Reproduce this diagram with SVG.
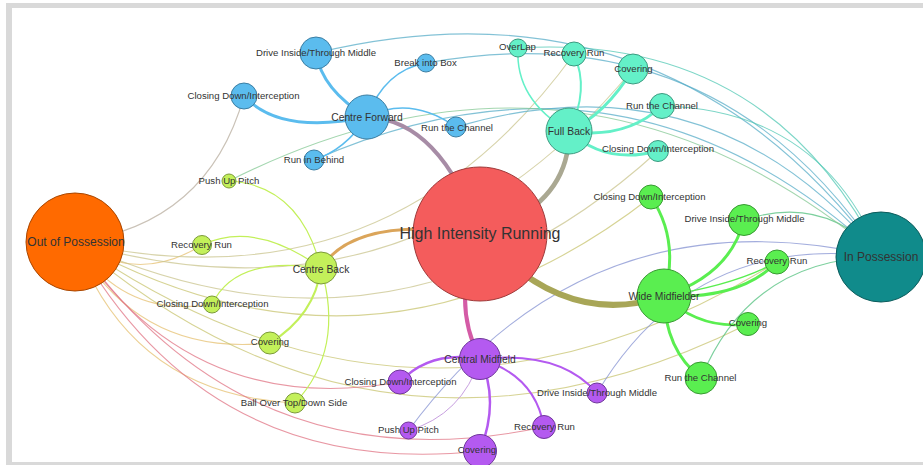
<svg xmlns="http://www.w3.org/2000/svg" width="923" height="465" viewBox="0 0 923 465">
<style>
.e{fill:none;stroke-linecap:round}
.t{fill:none;stroke-width:1.1;stroke-opacity:0.75}
.oc{stroke:#b8ad9f}.ob{stroke:#e6c070}.of{stroke:#c9c48e}.ow{stroke:#c8c470}.om{stroke:#e07484}
.ic{stroke:#5aaec8}.if{stroke:#52c8b4}.iw{stroke:#52c07e}.im{stroke:#8492d2}.ib{stroke:#84c894}
.cfe{stroke:#5bbcee}.fbe{stroke:#64f0c8}.wme{stroke:#5aee50}.cme{stroke:#b45af0}.cbe{stroke:#c3f05a}
circle{stroke-width:1}
.cf{fill:#5bbcee;stroke:#3b7ea3}.fb{fill:#64f0c8;stroke:#3c9a80}.wm{fill:#5aee50;stroke:#389a32}
.cm{fill:#b45af0;stroke:#6f379a}.cb{fill:#c3f05a;stroke:#7c9a3a}
text{font-family:"Liberation Sans",Arial,sans-serif;fill:#333;text-anchor:middle;font-size:9.6px}
.h{font-size:10.3px}
</style>
<rect x="6" y="3" width="917" height="462" fill="#d9d9d9"/>
<rect x="12" y="8" width="911" height="454" fill="#ffffff"/>
<g id="connectors">
<path class="t oc" d="M75,242 Q207.7,224.8 244,96"/>
<path class="t ob" d="M75,242 Q137.5,285.4 202,245"/>
<path class="t ob" d="M75,242 Q122.9,318.5 212,304.5"/>
<path class="t ob" d="M75,242 Q139.2,356.9 270,343"/>
<path class="t ob" d="M75,242 Q131.9,395.1 295,403"/>
<path class="t of" d="M75,242 Q386.5,312.7 574,54"/>
<path class="t of" d="M75,242 Q411.1,339.6 633,69"/>
<path class="t of" d="M75,242 Q396.5,388.9 658,151"/>
<path class="t ow" d="M75,242 Q377.9,409.6 651,197"/>
<path class="t ow" d="M75,242 Q419.4,483.7 777,262"/>
<path class="t ow" d="M75,242 Q384.4,505.1 748,324"/>
<path class="t om" d="M75,242 Q191.3,419.3 400,382"/>
<path class="t om" d="M75,242 Q248.5,489.3 544,427"/>
<path class="t om" d="M75,242 Q208.5,480.2 480,451"/>
<path class="t ic" d="M881,257 Q665.8,-31.5 316,53"/>
<path class="t ic" d="M881,257 Q717.5,9.9 426,63"/>
<path class="t ic" d="M881,257 Q711.4,51.8 456,127"/>
<path class="t ic" d="M881,257 Q629.5,21.4 314,160"/>
<path class="t if" d="M881,257 Q768.5,32.7 518,48"/>
<path class="t if" d="M881,257 Q821.3,109.2 662,106"/>
<path class="t iw" d="M881,257 Q824.7,193.3 744,220"/>
<path class="t iw" d="M881,257 Q751,258 701,378"/>
<path class="t im" d="M881,257 Q694,231.3 597,393"/>
<path class="t im" d="M881,257 Q587.5,187.8 408.5,430.5"/>
<path class="t ib" d="M881,257 Q580.1,3.8 229,181"/>
<path class="e" stroke="#a78ca6" stroke-width="4" d="M367,117 Q440,120 480,234"/>
<path class="e" stroke="#aaa892" stroke-width="4.5" d="M480,234 Q570,205 569,131"/>
<path class="e" stroke="#dba55a" stroke-width="3" d="M321,268 Q355,215 480,234"/>
<path class="e" stroke="#a8a657" stroke-width="6" d="M480,234 Q565,330 664,296"/>
<path class="e" stroke="#d45ba6" stroke-width="4" d="M480,234 Q450,300 480,359"/>
<path class="e cfe" stroke-width="3" d="M316,53 Q322,90 367,117"/>
<path class="e cfe" stroke-width="3" d="M244,96 Q280,135 367,117"/>
<path class="e cfe" stroke-width="1.5" d="M367,117 Q385,70 426,63"/>
<path class="e cfe" stroke-width="1.5" d="M367,117 Q410,95 456,127"/>
<path class="e cfe" stroke-width="1.5" d="M367,117 Q345,150 314,160"/>
<path class="e fbe" stroke-width="1.5" d="M518,48 Q515,100 569,131"/>
<path class="e fbe" stroke-width="2" d="M574,54 Q590,90 569,131"/>
<path class="e fbe" stroke-width="3" d="M569,131 Q605,115 633,69"/>
<path class="e fbe" stroke-width="3" d="M569,131 Q625,140 662,106"/>
<path class="e fbe" stroke-width="3" d="M569,131 Q605,165 658,151"/>
<path class="e wme" stroke-width="3" d="M651,197 Q680,240 664,296"/>
<path class="e wme" stroke-width="3" d="M664,296 Q730,275 744,220"/>
<path class="e wme" stroke-width="3" d="M664,296 Q740,300 777,262"/>
<path class="e wme" stroke-width="1.5" d="M664,296 Q735,285 777,262"/>
<path class="e wme" stroke-width="2.5" d="M664,296 Q700,330 748,324"/>
<path class="e wme" stroke-width="3" d="M664,296 Q665,350 701,378"/>
<path class="e cme" stroke-width="2.5" d="M480,359 Q430,350 400,382"/>
<path class="e cme" stroke-width="2" d="M480,359 Q560,350 597,393"/>
<path class="e cme" stroke-width="2" d="M480,359 Q535,375 544,427"/>
<path class="e cme" stroke-width="2.5" d="M480,359 Q500,400 480,451"/>
<path class="e" stroke="#c8a0e0" stroke-width="1" d="M480,359 Q462,415 408.5,430.5"/>
<path class="e cbe" stroke-width="1.2" d="M202,245 Q255,220 321,268"/>
<path class="e cbe" stroke-width="1.2" d="M212,304.5 Q235,255 321,268"/>
<path class="e cbe" stroke-width="2" d="M321,268 Q315,315 270,343"/>
<path class="e cbe" stroke-width="1.2" d="M321,268 Q345,350 295,403"/>
<path class="e cbe" stroke-width="1.2" d="M229,181 Q300,185 321,268"/>
</g>
<g id="high-intensity-running"><circle cx="480" cy="234" r="67" fill="#f45c5c" stroke="#9e3b3b"/><text x="480" y="238.6" style="font-size:16px">High Intensity Running</text></g>
<g id="out-of-possession"><circle cx="75" cy="242" r="49" fill="#ff6a00" stroke="#a84600"/><text x="76" y="246.2" style="font-size:12px">Out of Possession</text></g>
<g id="in-possession"><circle cx="881" cy="257" r="45" fill="#108b8b" stroke="#0a5b5b"/><text x="881" y="261.2" style="font-size:12px">In Possession</text></g>
<g id="centre-forward"><circle class="cf" cx="367" cy="117" r="22"/><text class="h" x="367" y="120.6">Centre Forward</text></g>
<g id="cf-drive-inside"><circle class="cf" cx="316" cy="53" r="16"/><text x="316" y="56.4">Drive Inside/Through Middle</text></g>
<g id="cf-break-into-box"><circle class="cf" cx="426" cy="63" r="9"/><text x="425.5" y="66.4">Break into Box</text></g>
<g id="cf-closing-down"><circle class="cf" cx="244" cy="96" r="13"/><text x="243.5" y="99.4">Closing Down/Interception</text></g>
<g id="cf-run-in-behind"><circle class="cf" cx="314" cy="160" r="10"/><text x="314" y="163.4">Run in Behind</text></g>
<g id="cf-run-the-channel"><circle class="cf" cx="456" cy="127" r="10"/><text x="457" y="131.4">Run the Channel</text></g>
<g id="full-back"><circle class="fb" cx="569" cy="131" r="23"/><text class="h" x="569" y="134.6">Full Back</text></g>
<g id="fb-overlap"><circle class="fb" cx="518" cy="48" r="9"/><text x="517.5" y="50.4">OverLap</text></g>
<g id="fb-recovery-run"><circle class="fb" cx="574" cy="54" r="12"/><text x="574" y="56.4">Recovery Run</text></g>
<g id="fb-covering"><circle class="fb" cx="633" cy="69" r="15"/><text x="633.5" y="72.4">Covering</text></g>
<g id="fb-run-the-channel"><circle class="fb" cx="662" cy="106" r="12.5"/><text x="662" y="109.4">Run the Channel</text></g>
<g id="fb-closing-down"><circle class="fb" cx="658" cy="151" r="10.5"/><text x="658" y="152.4">Closing Down/Interception</text></g>
<g id="wide-midfielder"><circle class="wm" cx="664" cy="296" r="27"/><text class="h" x="664" y="299.6">Wide Midfielder</text></g>
<g id="wm-closing-down"><circle class="wm" cx="651" cy="197" r="12"/><text x="649.5" y="200.4">Closing Down/Interception</text></g>
<g id="wm-drive-inside"><circle class="wm" cx="744" cy="220" r="15.5"/><text x="744.5" y="222.4">Drive Inside/Through Middle</text></g>
<g id="wm-recovery-run"><circle class="wm" cx="777" cy="262" r="12"/><text x="777" y="264.4">Recovery Run</text></g>
<g id="wm-covering"><circle class="wm" cx="748" cy="324" r="11.5"/><text x="748" y="326.4">Covering</text></g>
<g id="wm-run-the-channel"><circle class="wm" cx="701" cy="378" r="16"/><text x="700.5" y="381.4">Run the Channel</text></g>
<g id="central-midfield"><circle class="cm" cx="480" cy="359" r="20.5"/><text class="h" x="480" y="362.6">Central Midfield</text></g>
<g id="cm-closing-down"><circle class="cm" cx="400" cy="382" r="12"/><text x="400.5" y="385.4">Closing Down/Interception</text></g>
<g id="cm-push-up-pitch"><circle class="cm" cx="408.5" cy="430.5" r="8.5"/><text x="408.5" y="433.4">Push Up Pitch</text></g>
<g id="cm-covering"><circle class="cm" cx="480" cy="451" r="16.5"/><text x="477" y="453.4">Covering</text></g>
<g id="cm-recovery-run"><circle class="cm" cx="544" cy="427" r="11.5"/><text x="544.5" y="430.4">Recovery Run</text></g>
<g id="cm-drive-inside"><circle class="cm" cx="597" cy="393" r="10"/><text x="597" y="396.4">Drive Inside/Through Middle</text></g>
<g id="centre-back"><circle class="cb" cx="321" cy="268" r="16"/><text class="h" x="321" y="272.6">Centre Back</text></g>
<g id="cb-recovery-run"><circle class="cb" cx="202" cy="245" r="9.5"/><text x="201.5" y="248.4">Recovery Run</text></g>
<g id="cb-closing-down"><circle class="cb" cx="212" cy="304.5" r="8.5"/><text x="212.5" y="307.4">Closing Down/Interception</text></g>
<g id="cb-covering"><circle class="cb" cx="270" cy="343" r="11"/><text x="270" y="345.4">Covering</text></g>
<g id="cb-ball-over-top"><circle class="cb" cx="295" cy="403" r="10"/><text x="294" y="406.4">Ball Over Top/Down Side</text></g>
<g id="cb-push-up-pitch"><circle class="cb" cx="229" cy="181" r="7"/><text x="229" y="184.4">Push Up Pitch</text></g>
</svg>
